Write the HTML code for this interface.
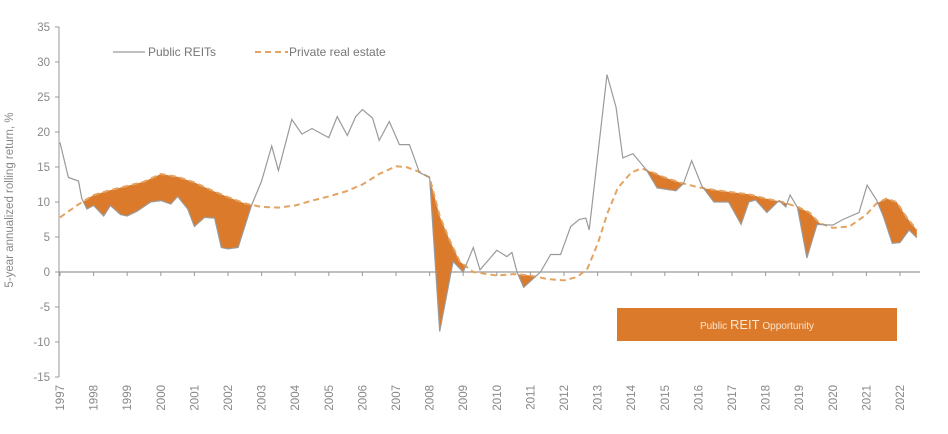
<!DOCTYPE html>
<html><head><meta charset="utf-8"><style>
body{margin:0;background:#fff;}
svg{display:block;font-family:"Liberation Sans",sans-serif;}
</style></head><body>
<svg id="chart" width="948" height="434" viewBox="0 0 948 434">
<g id="axes"></g>
<path id="fill" fill="#dc7a2c" stroke="none"/>
<path id="priv" fill="none" stroke="#e3a462" stroke-width="2" stroke-dasharray="6,4"/>
<path id="reit" fill="none" stroke="#9a9a9a" stroke-width="1.2"/>
<g>
<line x1="113" y1="52" x2="145" y2="52" stroke="#9a9a9a" stroke-width="1.2"/>
<text x="148" y="56" font-size="12" fill="#777">Public REITs</text>
<line x1="255" y1="52" x2="288" y2="52" stroke="#e3a462" stroke-width="2" stroke-dasharray="6,4"/>
<text x="289" y="56" font-size="12" fill="#777">Private real estate</text>
</g>
<g>
<rect x="617" y="308" width="280" height="33" fill="#dc7a2c"/>
<text x="757" y="329" text-anchor="middle" font-size="10" fill="#fbe6d0">Public <tspan font-size="13">REIT</tspan> Opportunity</text>
</g>
<text transform="translate(13,200) rotate(-90)" text-anchor="middle" font-size="11.5" fill="#888">5-year annualized rolling return, %</text>
</svg>
<script>
const yTicks=[35,30,25,20,15,10,5,0,-5,-10,-15];
const xTickYears=[1997,1998,1999,2000,2001,2002,2003,2004,2005,2006,2007,2008,2009,2010,2011,2012,2013,2014,2015,2016,2017,2018,2019,2020,2021,2022];
const reitYears=[1997,1997.25,1997.55,1997.65,1997.8,1998,1998.3,1998.5,1998.8,1999,1999.3,1999.7,2000,2000.3,2000.5,2000.8,2001,2001.3,2001.6,2001.8,2002,2002.3,2002.7,2003,2003.3,2003.5,2003.9,2004.2,2004.5,2004.8,2005,2005.25,2005.55,2005.8,2006,2006.3,2006.5,2006.8,2007.1,2007.4,2007.7,2008,2008.3,2008.7,2009,2009.3,2009.5,2010,2010.3,2010.45,2010.6,2010.8,2011.3,2011.6,2011.9,2012.2,2012.45,2012.65,2012.75,2013.28,2013.55,2013.75,2014.05,2014.45,2014.77,2015.33,2015.55,2015.8,2016.1,2016.46,2016.9,2017.27,2017.5,2017.7,2018.04,2018.4,2018.6,2018.73,2018.95,2019.23,2019.53,2020,2020.3,2020.78,2021.02,2021.3,2021.5,2021.77,2022,2022.27,2022.5];
const reitValues=[18.5,13.5,13,10.5,9,9.5,8,9.5,8.2,8,8.7,10,10.2,9.7,10.8,9,6.5,7.8,7.7,3.5,3.3,3.5,9.5,13,18,14.5,21.8,19.7,20.5,19.7,19.2,22.2,19.5,22.2,23.2,22,18.8,21.5,18.2,18.2,14.2,13.5,-8.5,1.5,0,3.5,0.3,3.1,2.2,2.8,0,-2.2,0,2.5,2.5,6.5,7.5,7.7,6,28.2,23.5,16.3,16.9,14.6,12,11.6,12.6,15.9,12.3,10,10,6.8,10,10.3,8.5,10.2,9.3,11,9.2,2,6.8,6.7,7.5,8.5,12.4,10.3,8,4.1,4.2,6,4.9];
const privYears=[1997,1997.5,1998,1998.5,1999,1999.5,2000,2000.5,2001,2001.5,2002,2002.5,2003,2003.5,2004,2004.5,2005,2005.5,2006,2006.5,2007,2007.3,2007.7,2008,2008.3,2008.6,2008.9,2009.3,2009.7,2010,2010.5,2011,2011.5,2012,2012.4,2012.7,2013,2013.3,2013.6,2014,2014.3,2014.6,2015,2015.5,2016,2016.5,2017,2017.5,2018,2018.5,2019,2019.3,2019.6,2020,2020.5,2021,2021.3,2021.6,2021.9,2022.2,2022.5];
const privValues=[7.8,9.5,11,11.7,12.3,12.9,14,13.6,12.8,11.7,10.7,9.8,9.3,9.2,9.5,10.2,10.8,11.5,12.5,14,15.1,15,14.3,13.5,8,4.5,1.5,0,-0.3,-0.5,-0.3,-0.5,-1,-1.2,-0.7,0.5,4,8.5,12,14.2,14.8,14.3,13.5,12.7,12.1,11.7,11.4,11.1,10.5,10,9.2,8.5,7,6.3,6.5,8.2,9.8,10.5,10,7.8,6];

const X=t=>60+33.6*(t-1997);
const Y=v=>272-7*v;
const NS='http://www.w3.org/2000/svg';
const axes=document.getElementById('axes');
function mk(tag,attrs){const e=document.createElementNS(NS,tag);for(const k in attrs)e.setAttribute(k,attrs[k]);return e;}
const ya=mk('line',{x1:59,y1:Y(35),x2:59,y2:Y(-15),stroke:'#999','stroke-width':1});


axes.appendChild(ya);
const za=mk('line',{x1:59,y1:Y(0),x2:920,y2:Y(0),stroke:'#999','stroke-width':1.2});


axes.appendChild(za);
yTicks.forEach(v=>{
  const tk=mk('line',{x1:55,y1:Y(v),x2:59,y2:Y(v),stroke:'#999'});
  
  
  axes.appendChild(tk);
  const t=mk('text',{x:50,y:Y(v)+4,'text-anchor':'end','font-size':11.5,fill:'#888'});
  t.textContent=v;
  
  
  axes.appendChild(t);
});
xTickYears.forEach(yr=>{
  const tk=mk('line',{x1:X(yr),y1:Y(0),x2:X(yr),y2:Y(0)+4,stroke:'#999'});
  
  
  axes.appendChild(tk);
  const t=mk('text',{transform:`translate(${X(yr)+4},385) rotate(-90)`,'text-anchor':'end','font-size':11.5,fill:'#888'});
  t.textContent=yr;
  
  
  axes.appendChild(t);
});
function path(xs,vs){return xs.map((t,i)=>(i?'L':'M')+X(t).toFixed(1)+','+Y(vs[i]).toFixed(1)).join('');}
document.getElementById('reit').setAttribute('d',path(reitYears,reitValues));
document.getElementById('priv').setAttribute('d',path(privYears,privValues));
function interp(xs,vs,t){if(t<=xs[0])return vs[0];for(let i=1;i<xs.length;i++){if(t<=xs[i]){const f=(t-xs[i-1])/(xs[i]-xs[i-1]);return vs[i-1]+f*(vs[i]-vs[i-1]);}}return vs[vs.length-1];}
const grid=[];for(let t=1997;t<=2022.5001;t+=0.01)grid.push(t);
const up=grid.map(t=>interp(privYears,privValues,t));
const lo=grid.map((t,i)=>Math.min(up[i],interp(reitYears,reitValues,t)));
let d='M'+grid.map((t,i)=>X(t).toFixed(2)+','+Y(up[i]).toFixed(2)).join('L');
for(let i=grid.length-1;i>=0;i--)d+='L'+X(grid[i]).toFixed(2)+','+Y(lo[i]).toFixed(2);
d+='Z';
document.getElementById('fill').setAttribute('d',d);
</script>
</body></html>
